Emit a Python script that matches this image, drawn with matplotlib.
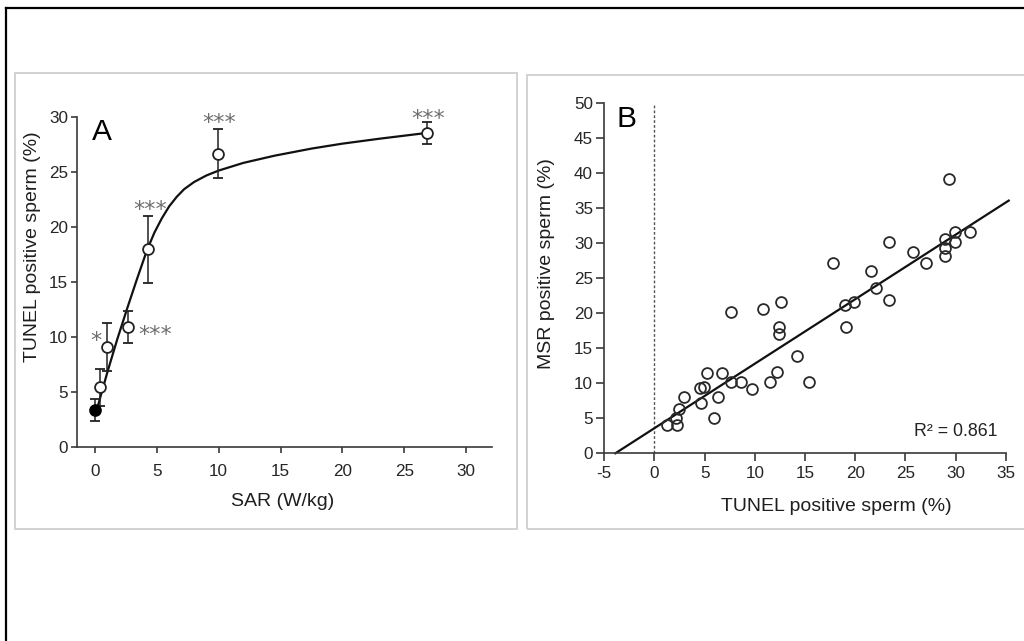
import matplotlib
matplotlib.use("Agg")
import matplotlib.pyplot as plt
from matplotlib.patches import Rectangle
from matplotlib.lines import Line2D

plt.rcParams['font.family'] = ['Liberation Sans', 'DejaVu Sans']
plt.rcParams['axes.unicode_minus'] = False

# ---------------- Panel A data ----------------
sar_ctrl = [0.0]
tunel_ctrl = [3.3]
tunel_ctrl_err = [1.0]

sar = [0.4, 1.0, 2.7, 4.25, 9.95, 26.85]
tunel = [5.4, 9.1, 10.9, 18.0, 26.7, 28.6]
tunel_err = [1.7, 2.2, 1.45, 3.05, 2.25, 1.0]

# fitted curve, points
curve_x = [0.2, 1.0, 1.8, 2.6, 3.4, 4.2, 4.8, 5.4, 6.0, 6.6, 7.2, 8.0, 9.0, 10.0,
           12.0, 14.5, 17.5, 20.0, 23.0, 27.0]
curve_y = [3.6, 6.8, 9.8, 12.6, 15.3, 17.9, 19.5, 20.8, 21.9, 22.75, 23.45, 24.1,
           24.7, 25.15, 25.85, 26.5, 27.15, 27.6, 28.05, 28.6]

sig_labels = ['*', '***', '***', '***', '***']
sig_x = [0.1, 4.85, 4.45, 10.0, 26.95]
sig_y = [10.3, 10.8, 22.2, 30.1, 30.5]

xticks_a = [0, 5, 10, 15, 20, 25, 30]
yticks_a = [0, 5, 10, 15, 20, 25, 30]

# ---------------- Panel B data ----------------
tunel_b = [1.26, 2.26, 2.13, 2.43, 2.99, 4.52, 4.92, 4.65, 5.25, 6.74, 6.38, 5.98,
           7.67, 8.67, 9.73, 7.67, 10.83, 11.56, 12.23, 12.39, 12.39, 12.56, 14.22,
           15.35, 17.81, 18.94, 19.87, 19.1, 21.53, 22.09, 23.42, 23.42, 25.78,
           27.01, 29.0, 29.0, 29.0, 29.93, 29.93, 31.43, 29.34]
msr_b = [4.05, 4.05, 5.0, 6.33, 8.1, 9.29, 9.43, 7.14, 11.52, 11.52, 8.1, 5.0,
         10.14, 10.14, 9.14, 20.24, 20.57, 10.14, 11.57, 17.05, 18.1, 21.57, 13.95,
         10.14, 27.14, 21.19, 21.57, 18.1, 26.05, 23.57, 30.24, 21.9, 28.71,
         27.14, 30.62, 29.29, 28.24, 31.57, 30.24, 31.57, 39.19]

fit_x = [-3.9, 35.3]
fit_y = [0.0, 36.1]
r2_text = 'R² = 0.861'

xticks_b = [-5, 0, 5, 10, 15, 20, 25, 30, 35]
yticks_b = [0, 5, 10, 15, 20, 25, 30, 35, 40, 45, 50]

W, H = 1024, 641
fig = plt.figure(figsize=(W / 100, H / 100), dpi=100)


def fx(px):
    return px / W


def fy(py):
    return 1 - py / H


# outer frame (top and left lines)
fig.add_artist(Line2D([fx(6), fx(6)], [0, fy(7.5)], color='black', lw=1.6))
fig.add_artist(Line2D([fx(6), 1], [fy(7.5), fy(7.5)], color='black', lw=1.6))

# panel borders
for (x0, y0, x1, y1) in [(15, 73, 517, 529), (527, 75, 1030, 529)]:
    fig.add_artist(Rectangle((fx(x0), fy(y1)), (x1 - x0) / W, (y1 - y0) / H,
                             transform=fig.transFigure, fill=False,
                             edgecolor='#d2d2d2', lw=1.4))

spine_col = '#3a3a3a'
tick_col = '#262626'
label_col = '#1e1e1e'
circ_ms = 7.8
tick_fs = 12.3
label_fs = 14

# ---------------- Panel A ----------------
axA = fig.add_axes([fx(77), fy(446.7), 415 / W, 329.4 / H])
axA.set_xlim(-1.46, 32.1)
axA.set_ylim(0, 30)
for s in ['top', 'right']:
    axA.spines[s].set_visible(False)
for s in ['left', 'bottom']:
    axA.spines[s].set_color(spine_col)
    axA.spines[s].set_linewidth(1.2)
axA.set_xticks(xticks_a)
axA.set_yticks(yticks_a)
axA.tick_params(axis='x', direction='out', length=4, width=1.2, color=spine_col,
                labelsize=tick_fs, labelcolor=tick_col, pad=8.5)
axA.tick_params(axis='y', direction='out', length=4, width=1.2, color=spine_col,
                labelsize=tick_fs, labelcolor=tick_col, pad=2.4)

axA.plot(curve_x, curve_y, color='#111111', lw=1.6, zorder=2, clip_on=False)
axA.errorbar(sar, tunel, yerr=tunel_err, fmt='o', ms=circ_ms, mfc='white',
             mec='#222222', mew=1.3, ecolor='#222222', elinewidth=1.1,
             capsize=3.3, capthick=1.1, zorder=3, clip_on=False)
axA.errorbar(sar_ctrl, tunel_ctrl, yerr=tunel_ctrl_err, fmt='o', ms=circ_ms,
             mfc='black', mec='black', mew=1.3, ecolor='#222222', elinewidth=1.1,
             capsize=3.3, capthick=1.1, zorder=3, clip_on=False)
for s, x, y in zip(sig_labels, sig_x, sig_y):
    axA.annotate(s, (x, y), xytext=(0, -9.5), textcoords='offset points',
                 ha='center', va='baseline', fontsize=16, color='#6e6e6e',
                 family='DejaVu Sans', annotation_clip=False)

axA.text(0.035, 0.998, 'A', transform=axA.transAxes, fontsize=21.5,
         ha='left', va='top', color='black')
axA.set_xlabel('SAR (W/kg)', fontsize=label_fs, color=label_col, va='center')
axA.xaxis.set_label_coords(0.496, -0.167)
axA.set_ylabel('TUNEL positive sperm (%)', fontsize=label_fs, color=label_col,
               va='center')
axA.yaxis.set_label_coords(-0.108, 0.607)

# ---------------- Panel B ----------------
axB = fig.add_axes([fx(604.3), fy(453.3), 401.4 / W, 350 / H])
axB.set_xlim(-5, 35)
axB.set_ylim(0, 50)
for s in ['top', 'right']:
    axB.spines[s].set_visible(False)
for s in ['left', 'bottom']:
    axB.spines[s].set_color(spine_col)
    axB.spines[s].set_linewidth(1.2)
axB.set_xticks(xticks_b)
axB.set_yticks(yticks_b)
axB.tick_params(axis='x', direction='out', length=5.5, width=1.2, color=spine_col,
                labelsize=tick_fs, labelcolor=tick_col, pad=3.8)
axB.tick_params(axis='y', direction='out', length=5.5, width=1.2, color=spine_col,
                labelsize=tick_fs, labelcolor=tick_col, pad=2.6)

axB.axvline(0, color='#555555', lw=1.0, linestyle=(0, (2, 1.5)), zorder=1)
axB.plot(fit_x, fit_y, color='#111111', lw=1.6, zorder=2, clip_on=False)
axB.plot(tunel_b, msr_b, 'o', ms=circ_ms, mfc='none', mec='#2a2a2a', mew=1.3,
         zorder=3, clip_on=False)
axB.text(34.2, 3.1, r2_text, ha='right', va='center', fontsize=12.8,
         color='#222222')
axB.text(0.031, 0.995, 'B', transform=axB.transAxes, fontsize=21.5,
         ha='left', va='top', color='black')
axB.set_xlabel('TUNEL positive sperm (%)', fontsize=label_fs, color=label_col,
               va='center')
axB.xaxis.set_label_coords(0.579, -0.153)
axB.set_ylabel('MSR positive sperm (%)', fontsize=label_fs, color=label_col,
               va='center')
axB.yaxis.set_label_coords(-0.1435, 0.543)

fig.savefig('out.png', dpi=100)
